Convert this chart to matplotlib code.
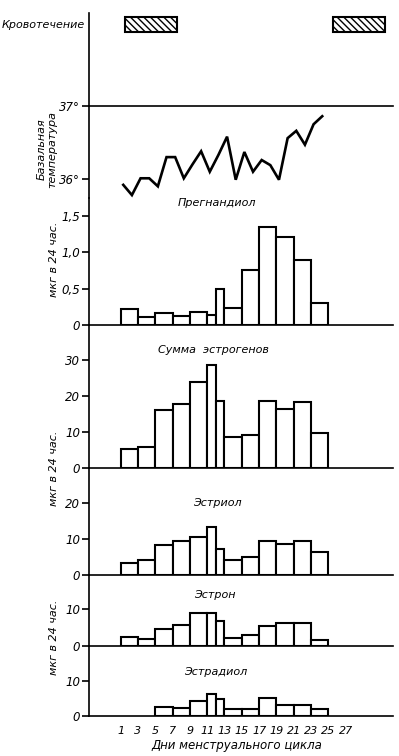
import numpy as np
import matplotlib
matplotlib.use("Agg")
import matplotlib.pyplot as plt
from matplotlib.patches import Rectangle

# --- data -----------------------------------------------------------------
bleeding = [(1.5, 7.5), (25.5, 31.5)]          # start/end day of bleeding

temp_days = np.arange(1, 25) + 0.3
temp_vals = [35.92, 35.78, 36.01, 36.01, 35.90, 36.30, 36.30, 36.01,
             36.20, 36.38, 36.10, 36.33, 36.58, 35.99, 36.37, 36.10,
             36.26, 36.19, 35.99, 36.56, 36.66, 36.47, 36.75, 36.86]

# bar edges (days); the 11-13 interval is split into two one-day bars
edges = [1, 3, 5, 7, 9, 11, 12, 13, 15, 17, 19, 21, 23, 25]

pregnandiol = [0.22, 0.11, 0.17, 0.13, 0.18, 0.14, 0.49, 0.23, 0.75,
               1.34, 1.21, 0.89, 0.30]
estrogens = [5.4, 5.8, 16.2, 17.8, 24.1, 28.7, 18.8, 8.6, 9.2, 18.8,
             16.5, 18.4, 9.7]
estriol = [3.4, 4.2, 8.2, 9.4, 10.6, 13.4, 7.3, 4.2, 4.9, 9.3, 8.5, 9.3, 6.5]
estron = [2.4, 1.8, 4.6, 5.7, 8.9, 8.9, 6.9, 2.1, 3.0, 5.5, 6.2, 6.2, 1.6]
estradiol = [np.nan, np.nan, 2.6, 2.2, 4.2, 6.1, 4.7, 1.9, 1.9, 5.2,
             3.1, 3.1, 1.9]

day_ticks = list(range(1, 28, 2))

# --- layout (pixels) ------------------------------------------------------
W, H = 399, 756
L, R = 89, 393
XLIM = (-2.66, 32.48)
LW = 1.2
FS = 8

plt.rcParams["font.family"] = ["DejaVu Sans"]
plt.rcParams["font.style"] = "italic"

fig = plt.figure(figsize=(W / 100, H / 100), dpi=100)


def panel(top, bottom):
    ax = fig.add_axes([L / W, 1 - bottom / H, (R - L) / W, (bottom - top) / H])
    ax.set_xlim(*XLIM)
    ax.patch.set_alpha(0)
    for s in ("top", "right"):
        ax.spines[s].set_visible(False)
    for s in ax.spines.values():
        s.set_linewidth(LW)
    ax.set_xticks([])
    ax.tick_params(axis="y", length=5, width=LW, pad=1.5, labelsize=FS + 0.5)
    return ax


def ftext(x, y, s, **kw):
    kw.setdefault("fontsize", FS)
    fig.text(x / W, 1 - y / H, s, ha=kw.pop("ha", "center"),
             va=kw.pop("va", "center"), **kw)


def bars(ax, vals):
    left = np.array(edges[:-1], dtype=float)
    width = np.diff(edges)
    v = np.array(vals, dtype=float)
    ok = ~np.isnan(v)
    ax.bar(left[ok], v[ok], width=width[ok], align="edge", color="white",
           edgecolor="black", linewidth=1.5)


# bleeding
ax0 = panel(13, 106)
ax0.spines["bottom"].set_visible(False)
ax0.set_yticks([])
ax0.set_ylim(0, 1)
for a, b in bleeding:
    ax0.add_patch(Rectangle((a, 0.80), b - a, 0.155, facecolor="white",
                            edgecolor="black", linewidth=1.5,
                            hatch="\\\\\\\\\\", clip_on=False))
ftext(2, 25, "Кровотечение", ha="left")

# basal temperature
ax1 = panel(106, 198)
ax1.spines["top"].set_visible(True)
ax1.spines["bottom"].set_visible(False)
ax1.set_ylim(35.74, 37.0)
ax1.set_yticks([36, 37])
ax1.set_yticklabels(["36°", "37°"])
ax1.plot(temp_days, temp_vals, color="black", linewidth=1.9, clip_on=False,
         solid_joinstyle="miter")
ftext(47, 149, "Базальная\nтемпература", rotation=90, linespacing=1.0)

# pregnandiol
ax2 = panel(198, 325)
ax2.set_ylim(0, 1.74)
ax2.set_yticks([0, 0.5, 1.0, 1.5])
ax2.set_yticklabels(["0", "0,5", "1,0", "1,5"])
bars(ax2, pregnandiol)
ftext(217, 203, "Прегнандиол")
ftext(54, 259, "мкг в 24 час.", rotation=90)

# sum of estrogens
ax3 = panel(325, 468.3)
ax3.set_ylim(0, 39.8)
ax3.set_yticks([0, 10, 20, 30])
bars(ax3, estrogens)
ftext(213, 350, "Сумма  эстрогенов")
ftext(54, 468, "мкг в 24 час.", rotation=90)

# estriol
ax4 = panel(468.3, 575)
ax4.set_ylim(0, 29.6)
ax4.set_yticks([0, 10, 20])
bars(ax4, estriol)
ftext(217, 503, "Эстриол")

# estron
ax5 = panel(575, 646)
ax5.set_ylim(0, 19.4)
ax5.set_yticks([0, 10])
bars(ax5, estron)
ftext(215, 595, "Эстрон")
ftext(54, 637, "мкг в 24 час.", rotation=90)

# estradiol
ax6 = panel(646, 716)
ax6.set_ylim(0, 19.8)
ax6.set_yticks([0, 10])
bars(ax6, estradiol)
ftext(216, 672, "Эстрадиол")
ax6.set_xticks(day_ticks)
ax6.tick_params(axis="x", length=0, pad=7, labelsize=FS)
ftext(237, 746, "Дни менструального цикла", fontsize=FS + 0.5)

fig.savefig("out.png", dpi=100)
